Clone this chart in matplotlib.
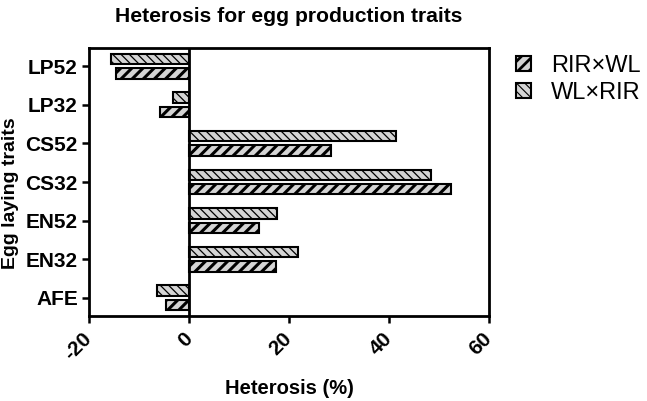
import matplotlib
matplotlib.use("Agg")
import matplotlib.pyplot as plt
import numpy as np

plt.rcParams['font.family'] = ['Liberation Sans', 'DejaVu Sans']

traits = ["AFE", "EN32", "EN52", "CS32", "CS52", "LP32", "LP52"]
rir_wl = [-4.6, 17.4, 14.0, 52.4, 28.4, -5.8, -14.6]
wl_rir = [-6.4, 21.8, 17.6, 48.4, 41.4, -3.2, -15.6]
xticks = [-20, 0, 20, 40, 60]

fig = plt.figure(figsize=(6.47, 4.01), dpi=100)
ax = fig.add_axes([89/647, 1-316/401, 400/647, 268/401])

y = np.arange(len(traits))
h = 0.27
off = 0.185

plt.rcParams['hatch.linewidth'] = 2.2
b1 = ax.barh(y - off, rir_wl, height=h, color='#d4d4d4', edgecolor='black',
             linewidth=1.5, hatch='///', label='RIR×WL')
plt.rcParams['hatch.linewidth'] = 0.9
b2 = ax.barh(y + off, wl_rir, height=h, color='#d4d4d4', edgecolor='black',
             linewidth=1.5, hatch='\\\\\\\\', label='WL×RIR')
for bars, lw in ((b1, 2.2), (b2, 0.9)):
    for p in bars:
        if hasattr(p, 'set_hatch_linewidth'):
            p.set_hatch_linewidth(lw)

ax.axvline(0, color='black', linewidth=2)
ax.set_xlim(-20, 60)
ax.set_ylim(-0.47, 6.47)
ax.set_xticks(xticks)
ax.set_xticklabels([str(t) for t in xticks], rotation=45, ha='right', va='center',
                   rotation_mode='anchor', fontweight='bold', fontsize=15)
ax.set_yticks(y)
ax.set_yticklabels(traits, fontweight='bold', fontsize=15)
for s in ax.spines.values():
    s.set_linewidth(2)
ax.tick_params(width=1.8, length=5)
ax.tick_params(axis='x', pad=9)
ax.tick_params(axis='y', pad=3)
xl = ax.set_xlabel("Heterosis (%)", fontweight='bold', fontsize=14.5)
xl.set_va('center')
ax.xaxis.set_label_coords(0.5, -0.269)
yl = ax.set_ylabel("Egg laying traits", fontweight='bold', fontsize=14)
yl.set_va('center')
ax.yaxis.set_label_coords(-0.197, 0.46)
ax.text(0.5, 1.116, "Heterosis for egg production traits", transform=ax.transAxes,
        ha='center', va='center', fontweight='bold', fontsize=15.2)

leg = ax.legend(loc='upper left', bbox_to_anchor=(516/647, 1-55/401),
                bbox_transform=fig.transFigure, frameon=False, borderpad=0, borderaxespad=0,
                fontsize=17, handlelength=0.62, handleheight=0.62, handletextpad=0.85,
                labelspacing=0.2)
for hnd, lw in zip(leg.legend_handles, (2.0, 0.8)):
    if hasattr(hnd, 'set_hatch_linewidth'):
        hnd.set_hatch_linewidth(lw)

fig.savefig("out.png", dpi=100)
